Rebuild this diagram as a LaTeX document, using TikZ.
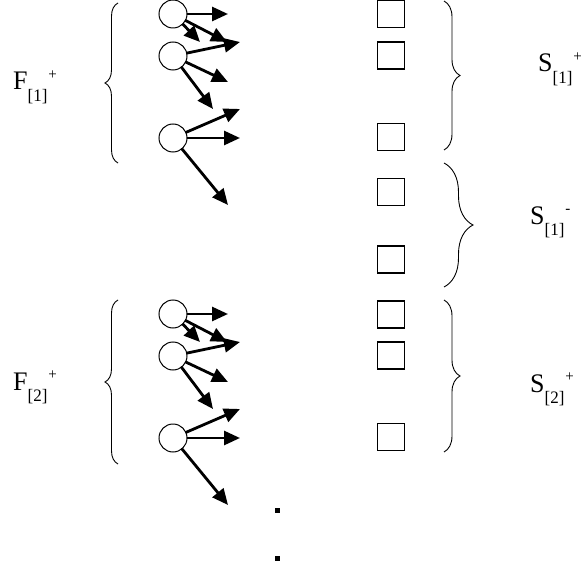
\documentclass[tikz,border=0pt]{standalone}
\usepackage{fontspec}
\setmainfont{Liberation Serif}
\usepackage{graphicx}
\usetikzlibrary{arrows.meta,decorations.pathreplacing}
\newcommand\lab[4]{\scalebox{1}[1.03]{\fontsize{26}{26}\selectfont #1\raisebox{-11pt}{\fontsize{17}{17}\selectfont #2}\hspace{#4}\raisebox{10pt}{\fontsize{15}{15}\selectfont #3}}}
\tikzset{
  obj/.style={circle,draw,line width=1pt,minimum size=28pt,inner sep=0pt},
  slot/.style={rectangle,draw,line width=1.1pt,minimum size=27pt,inner sep=0pt},
  link/.style={line width=2.8pt,-{Triangle[length=16pt,width=14pt]},shorten <=-1pt},
  brc/.style={decorate,line width=0.9pt,decoration={brace,amplitude=#1}},
  txt/.style={anchor=base west,inner sep=0pt},
  dotmark/.style={fill=black,draw=none,minimum width=5pt,minimum height=5pt,inner sep=0pt,rectangle}
}
\newcommand\fangroup[2]{%
  \node[obj] (#1c1) at (173,14+#2) {};
  \node[obj] (#1c2) at (173,56+#2) {};
  \node[obj] (#1c3) at (173,138+#2) {};
  \coordinate (#1t1a) at (228,14+#2);
  \coordinate (#1t1b) at (200,42+#2);
  \coordinate (#1t1c) at (227,42+#2);
  \coordinate (#1t2a) at (240,42+#2);
  \coordinate (#1t2b) at (228,82+#2);
  \coordinate (#1t2c) at (213,109+#2);
  \coordinate (#1t3a) at (240,109+#2);
  \coordinate (#1t3b) at (240,138+#2);
  \coordinate (#1t3c) at (228,205+#2);
  \draw[link] (#1c1) -- (#1t1a);
  \draw[link] (#1c1) -- (#1t1b);
  \draw[link] (#1c1) -- (#1t1c);
  \draw[link] (#1c2) -- (#1t2a);
  \draw[link] (#1c2) -- (#1t2b);
  \draw[link] (#1c2) -- (#1t2c);
  \draw[link] (#1c3) -- (#1t3a);
  \draw[link] (#1c3) -- (#1t3b);
  \draw[link] (#1c3) -- (#1t3c);
}
\begin{document}
\begin{tikzpicture}[x=1pt,y=-1pt]
\useasboundingbox (0,0) rectangle (586,572);
% fans
\fangroup{a}{0}
\fangroup{b}{300}
% slots
\node[slot] (q1) at (391,14) {};
\node[slot] (q2) at (391,55.5) {};
\node[slot] (q3) at (391,137) {};
\node[slot] (q4) at (391,192) {};
\node[slot] (q5) at (391,259.5) {};
\node[slot] (q6) at (391,314.5) {};
\node[slot] (q7) at (391,355.5) {};
\node[slot] (q8) at (391,437) {};
% left braces
\draw[brc=13pt] (118,163) -- (118,3);
\draw[brc=13pt] (118,464) -- (118,300);
% right braces
\draw[brc=16pt] (444,1) -- (444,150);
\draw[brc=29pt] (444,163) -- (444,287);
\draw[brc=16pt] (444,300) -- (444,452);
% labels
\node[txt] (f1) at (13,90) {\lab{F}{[1]}{+}{1pt}};
\node[txt] (f2) at (13,390) {\lab{F}{[2]}{+}{1pt}};
\node[txt] (s1) at (538,72) {\lab{S}{[1]}{+}{1pt}};
\node[txt] (s2) at (530,224) {\lab{S}{[1]}{-}{1pt}};
\node[txt] (s3) at (530,392) {\lab{S}{[2]}{+}{1pt}};
% continuation dots
\node[dotmark] (d1) at (277,510) {};
\node[dotmark] (d2) at (277,558) {};
\end{tikzpicture}
\end{document}
